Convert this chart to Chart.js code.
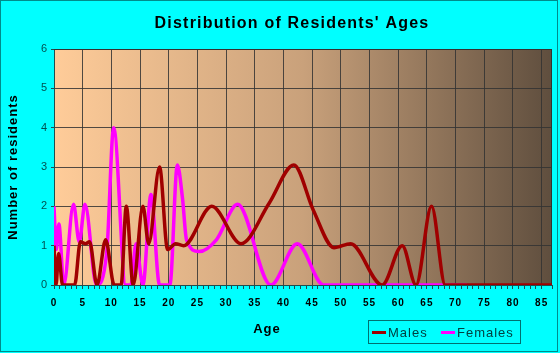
<!DOCTYPE html>
<html>
<head>
<meta charset="utf-8">
<script src="https://cdn.jsdelivr.net/npm/chart.js@4.4.1/dist/chart.umd.min.js"></script>
<style>
  html, body { margin: 0; padding: 0; background: #00ffff; }
</style>
</head>
<body>
<canvas id="ageChart" width="560" height="353"></canvas>
<script>
// Values (age, number of residents)
const maleAges   = [0, 0.35, 0.8, 1.5, 3.6, 4.6, 5.5, 6.2, 7.5, 9.0, 10.5, 11.7, 12.6, 13.8, 15.5, 16.5, 18.4, 19.8, 21.2, 22.6, 27.5, 32.6, 37.5, 41.8, 45.2, 48.8, 51.7, 57.2, 60.7, 63.1, 65.8, 68.2, 86.8];
const maleCounts = [1, 0, 0.8, 0, 0, 1.1, 1.05, 1.1, 0, 1.15, 0, 0, 2, 0, 2, 1.05, 3, 0.9, 1.05, 1.0, 2, 1.05, 2.08, 3.05, 1.9, 0.95, 1.05, 0, 1, 0, 2, 0, 0];

const femaleAges   = [0, 0.4, 0.85, 1.7, 3.4, 4.4, 5.4, 7.4, 9.2, 10.4, 12.5, 13.4, 14.3, 15.5, 16.9, 18.4, 20.2, 21.5, 22.4, 23.1, 25.3, 28.3, 32, 37.8, 42.4, 47, 72];
const femaleCounts = [2, 0.9, 1.55, 0, 2.05, 1.1, 2.05, 0, 0.85, 4, 0, 0, 1.05, 0, 2.3, 0, 0, 3.05, 2.2, 1.15, 0.85, 1.15, 2.05, 0, 1.05, 0, 0];

const seriesNames = ["Males", "Females"];
const seriesColors = ["#a00000", "#ff00ff"];
const chartTitle = "Distribution of Residents' Ages";
const yTickMax = 6;
const xTickMax = 86.8;
const xLabelStep = 5;

const toPoints = (xs, ys) => xs.map((x, i) => ({ x: x, y: ys[i] }));

const gridColor = "rgba(50,50,50,0.85)";
const fontFamily = "'Liberation Sans', Arial, sans-serif";

// background, frame, plot gradient, title, legend and x title
const decor = {
  id: "decor",
  beforeDraw(chart) {
    const { ctx, chartArea: a, width, height } = chart;
    ctx.letterSpacing = "1px";
    ctx.save();
    ctx.fillStyle = "#00ffff";
    ctx.fillRect(0, 0, width, height);
    ctx.strokeStyle = "#008b8b";
    ctx.lineWidth = 1;
    ctx.strokeRect(0.5, 0.5, width - 3, height - 2);
    const g = ctx.createLinearGradient(a.left, 0, a.right, 0);
    g.addColorStop(0, "#ffcc99");
    g.addColorStop(0.5, "#c9a17b");
    g.addColorStop(1, "#5f4e3e");
    ctx.fillStyle = g;
    ctx.fillRect(a.left, a.top, a.right - a.left, a.bottom - a.top);
    ctx.restore();
  },
  beforeDatasetsDraw(chart) {
    const { ctx, chartArea: a } = chart;
    ctx.save();
    ctx.strokeStyle = "#333333";
    ctx.lineWidth = 1;
    ctx.beginPath();
    ctx.moveTo(a.left, a.top + 0.5);
    ctx.lineTo(a.right - 0.5, a.top + 0.5);
    ctx.lineTo(a.right - 0.5, a.bottom);
    ctx.stroke();
    ctx.restore();
  },
  afterDraw(chart) {
    const ctx = chart.ctx;
    ctx.save();
    // title
    ctx.fillStyle = "#000";
    ctx.letterSpacing = "1.2px";
    ctx.font = "bold 16px " + fontFamily;
    ctx.textAlign = "center";
    ctx.textBaseline = "middle";
    ctx.fillText(chartTitle, 292, 24);
    // x axis title
    ctx.letterSpacing = "1px";
    ctx.font = "bold 13px " + fontFamily;
    ctx.fillText("Age", 267, 329);
    // legend
    ctx.strokeStyle = "#007070";
    ctx.lineWidth = 1;
    ctx.strokeRect(368.5, 320.5, 152, 23);
    const itemX = [372, 441];
    ctx.font = "13px " + fontFamily;
    ctx.textAlign = "left";
    chart.data.datasets.forEach((ds, i) => {
      ctx.strokeStyle = ds.borderColor;
      ctx.lineWidth = 3;
      ctx.beginPath();
      ctx.moveTo(itemX[i], 332.5);
      ctx.lineTo(itemX[i] + 14, 332.5);
      ctx.stroke();
      ctx.fillStyle = "#004040";
      ctx.fillText(ds.label, itemX[i] + 16, 333);
    });
    ctx.restore();
  }
};

new Chart(document.getElementById("ageChart"), {
  type: "line",
  data: {
    datasets: [
      {
        label: seriesNames[0],
        data: toPoints(maleAges, maleCounts),
        borderColor: seriesColors[0],
        borderWidth: 3.5,
        pointRadius: 0,
        cubicInterpolationMode: "monotone",
        fill: false
      },
      {
        label: seriesNames[1],
        data: toPoints(femaleAges, femaleCounts),
        borderColor: seriesColors[1],
        borderWidth: 3.5,
        pointRadius: 0,
        cubicInterpolationMode: "monotone",
        fill: false
      }
    ]
  },
  options: {
    responsive: false,
    animation: false,
    events: [],
    layout: { padding: { left: 0, right: 6, top: 49, bottom: 0 } },
    plugins: {
      legend: { display: false },
      tooltip: { enabled: false },
      title: { display: false }
    },
    scales: {
      x: {
        type: "linear",
        min: 0,
        max: xTickMax,
        ticks: {
          stepSize: 1,
          autoSkip: false,
          maxRotation: 0,
          padding: 8,
          color: "#000",
          font: { family: fontFamily, size: 10, weight: "bold" },
          callback: v => (v % xLabelStep === 0 ? String(v) : "")
        },
        grid: {
          color: c => (c.tick && c.tick.value % xLabelStep === 0 && c.tick.value > 0 ? gridColor : "transparent"),
          tickColor: "#1f4f4f",
          tickLength: 4,
          lineWidth: 1
        },
        border: { color: "#1f4f4f", width: 1 },
        afterFit: s => { s.height = 353 - 285; }
      },
      y: {
        min: 0,
        max: yTickMax,
        ticks: {
          stepSize: 1,
          padding: 3,
          color: "#005050",
          font: { family: fontFamily, size: 11 }
        },
        grid: {
          color: c => (c.tick && c.tick.value > 0 ? gridColor : "transparent"),
          tickColor: "#1f4f4f",
          tickLength: 3
        },
        border: { color: "#1f4f4f", width: 1 },
        title: {
          display: true,
          text: "Number of residents",
          color: "#000",
          font: { family: fontFamily, size: 13, weight: "bold" },
          padding: { top: 6, bottom: 0 }
        },
        afterFit: s => { s.width = 54; }
      }
    }
  },
  plugins: [decor]
});
</script>
</body>
</html>
